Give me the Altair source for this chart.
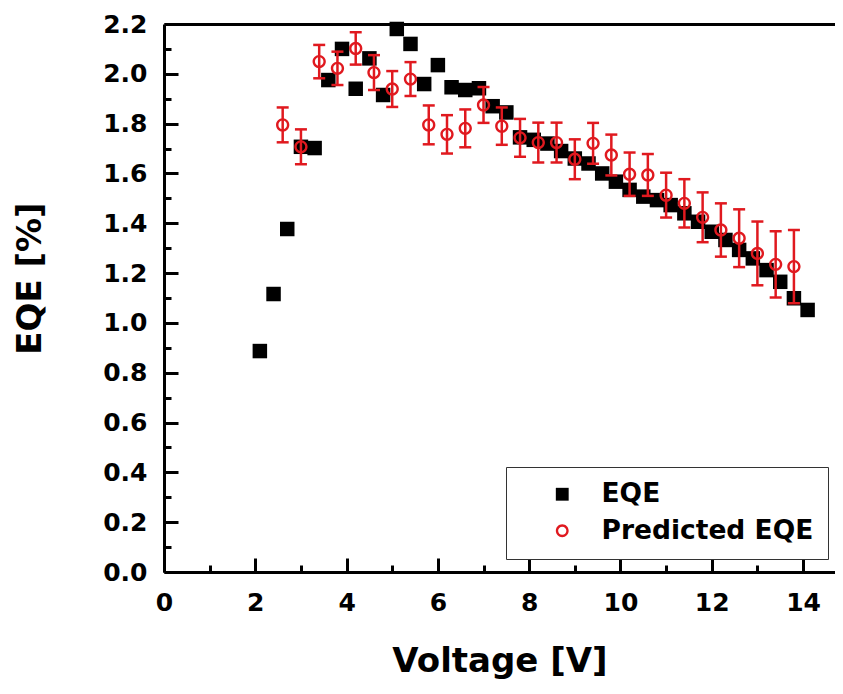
import altair as alt
import pandas as pd

# ---- data ----
volt_eqe = [2.1, 2.4, 2.7, 3.0, 3.3, 3.6, 3.9, 4.2, 4.5, 4.8, 5.1, 5.4, 5.7, 6.0,
            6.3, 6.6, 6.9, 7.2, 7.5, 7.8, 8.1, 8.4, 8.7, 9.0, 9.3, 9.6, 9.9, 10.2,
            10.5, 10.8, 11.1, 11.4, 11.7, 12.0, 12.3, 12.6, 12.9, 13.2, 13.5, 13.8, 14.1]
eqe = [0.887, 1.116, 1.377, 1.707, 1.702, 1.975, 2.10, 1.94, 2.062, 1.915, 2.18, 2.12,
       1.959, 2.035, 1.946, 1.935, 1.942, 1.87, 1.845, 1.745, 1.735, 1.72, 1.69, 1.66,
       1.64, 1.60, 1.567, 1.534, 1.507, 1.493, 1.473, 1.44, 1.406, 1.366, 1.333, 1.293,
       1.259, 1.212, 1.165, 1.099, 1.052]

volt_pred = [2.6, 3.0, 3.4, 3.8, 4.2, 4.6, 5.0, 5.4, 5.8, 6.2, 6.6, 7.0, 7.4, 7.8,
             8.2, 8.6, 9.0, 9.4, 9.8, 10.2, 10.6, 11.0, 11.4, 11.8, 12.2, 12.6, 13.0,
             13.4, 13.8]
pred = [1.795, 1.707, 2.049, 2.022, 2.102, 2.005, 1.939, 1.979, 1.795, 1.757, 1.781,
        1.875, 1.79, 1.743, 1.724, 1.724, 1.657, 1.721, 1.674, 1.597, 1.594, 1.513,
        1.48, 1.424, 1.373, 1.34, 1.279, 1.235, 1.226]
pred_err = [0.07, 0.07, 0.067, 0.067, 0.065, 0.07, 0.072, 0.068, 0.078, 0.077, 0.076,
            0.072, 0.075, 0.076, 0.08, 0.08, 0.08, 0.082, 0.082, 0.087, 0.084, 0.09,
            0.097, 0.10, 0.107, 0.116, 0.128, 0.133, 0.147]

series_names = ["EQE", "Predicted EQE"]
x_major = [0, 2, 4, 6, 8, 10, 12, 14]
x_minor = [1, 3, 5, 7, 9, 11, 13]
y_major = [0.0, 0.2, 0.4, 0.6, 0.8, 1.0, 1.2, 1.4, 1.6, 1.8, 2.0, 2.2]
y_minor = [0.1, 0.3, 0.5, 0.7, 0.9, 1.1, 1.3, 1.5, 1.7, 1.9, 2.1]

# ---- styling ----
RED = "#e0191f"
FONT = "DejaVu Sans"
W, H = 671, 548
XMAX = 14.70
RING = ("M-1,0A1,1,0,1,0,1,0A1,1,0,1,0,-1,0Z"
        "M-0.64,0A0.64,0.64,0,1,1,0.64,0A0.64,0.64,0,1,1,-0.64,0Z")

df_eqe = pd.DataFrame({"V": volt_eqe, "E": eqe, "series": series_names[0]})
df_pred = pd.DataFrame({
    "V": volt_pred,
    "E": pred,
    "lo": [p - e for p, e in zip(pred, pred_err)],
    "hi": [p + e for p, e in zip(pred, pred_err)],
    "series": series_names[1],
})

xs = alt.Scale(domain=[0, XMAX], nice=False, zero=False)
ys = alt.Scale(domain=[0, 2.2], nice=False, zero=False)

lbl = dict(labelFont=FONT, labelFontSize=25, labelFontWeight="bold", labelColor="black",
           labelFlush=False, labelOverlap=False, grid=False)
ttl = dict(titleFont=FONT, titleFontSize=34, titleFontWeight="bold", titleColor="black")

ax_bottom = alt.Axis(orient="bottom", values=x_major, format="d", ticks=False,
                     labelPadding=18, domainWidth=3, domainColor="black",
                     title="Voltage [V]", titleBaseline="alphabetic", titleY=99,
                     **lbl, **ttl)
ax_left = alt.Axis(orient="left", values=y_major, format=".1f", ticks=False,
                   labelPadding=17, domainWidth=3, domainColor="black",
                   title="EQE [%]", titleBaseline="alphabetic", titleX=-124, titleY=254,
                   titleAngle=270, titleAlign="center", **lbl, **ttl)

def tick_axis(orient, offset, values, size):
    return alt.Axis(orient=orient, offset=offset, values=values, labels=False,
                    domain=False, ticks=True, tickSize=size, tickWidth=3,
                    tickColor="black", grid=False, title=None)

ax_top_line = alt.Axis(orient="top", values=x_major, labels=False, ticks=False,
                       domain=True, domainWidth=3, domainColor="black", grid=False,
                       title=None)

legend = alt.Legend(orient="none", legendX=342, legendY=443, title=None, padding=14,
                    symbolOffset=29, labelOffset=26, rowPadding=9.5,
                    strokeColor="#333333", fillColor="white", labelFont=FONT,
                    labelFontSize=26.5, labelFontWeight="bold", labelColor="black",
                    symbolSize=165, symbolStrokeWidth=0, labelLimit=400,
                    labelExpr="datum.label + ' '")
color_enc = alt.Color("series:N", scale=alt.Scale(domain=series_names, range=["black", RED]),
                      legend=legend)
shape_enc = alt.Shape("series:N", scale=alt.Scale(domain=series_names, range=["square", RING]),
                      legend=legend)

squares = alt.Chart(df_eqe).mark_point(filled=True, opacity=1, size=210, strokeWidth=0).encode(
    x=alt.X("V:Q", scale=xs, axis=ax_bottom),
    y=alt.Y("E:Q", scale=ys, axis=ax_left),
    color=color_enc,
    shape=shape_enc,
)

bars = alt.Chart(df_pred).mark_rule(color=RED, strokeWidth=2.5).encode(
    x=alt.X("V:Q", scale=xs, axis=tick_axis("top", -H, x_major, 14)),
    y=alt.Y("lo:Q", scale=ys, axis=tick_axis("right", -W, y_major, 14)),
    y2="hi:Q",
)

caps_hi = alt.Chart(df_pred).mark_tick(color=RED, orient="horizontal", size=12,
                                       thickness=2.5, opacity=1).encode(
    x=alt.X("V:Q", scale=xs, axis=tick_axis("top", -H, x_minor, 7)),
    y=alt.Y("hi:Q", scale=ys, axis=tick_axis("right", -W, y_minor, 7)),
)

caps_lo = alt.Chart(df_pred).mark_tick(color=RED, orient="horizontal", size=12,
                                       thickness=2.5, opacity=1).encode(
    x=alt.X("V:Q", scale=xs, axis=ax_top_line),
    y=alt.Y("lo:Q", scale=ys, axis=None),
)

circles = alt.Chart(df_pred).mark_point(filled=True, opacity=1, size=177, strokeWidth=0).encode(
    x=alt.X("V:Q", scale=xs, axis=None),
    y=alt.Y("E:Q", scale=ys, axis=None),
    color=color_enc,
    shape=shape_enc,
)

chart = alt.layer(squares, bars, caps_hi, caps_lo, circles).resolve_axis(
    x="independent", y="independent"
).properties(
    width=W, height=H,
    autosize=alt.AutoSizeParams(type="none"),
    padding={"left": 156, "top": 16, "right": 0, "bottom": 110},
).configure_view(stroke=None)

chart.save("out.html", embed_options={"renderer": "svg", "actions": False})
